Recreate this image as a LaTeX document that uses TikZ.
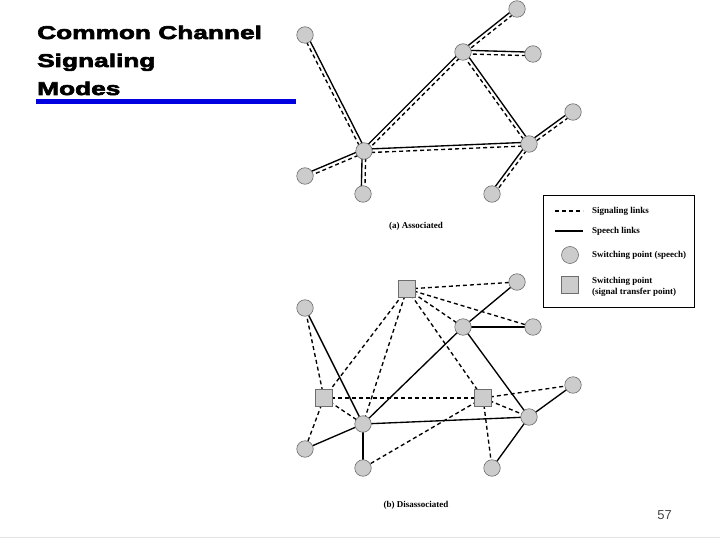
\documentclass[tikz,border=0pt]{standalone}
\usepackage{fontspec}
\setmainfont{Liberation Serif}
\newfontfamily\titlefont{Liberation Sans}[FakeStretch=1.42,FakeBold=3.5]
\newfontfamily\numfont{Liberation Sans}
\usetikzlibrary{calc,backgrounds}
\definecolor{nodefill}{RGB}{204,204,204}
\definecolor{nodeline}{RGB}{110,110,110}
\definecolor{titleblue}{RGB}{0,0,225}
\definecolor{numgray}{RGB}{70,70,70}
\definecolor{rulegray}{RGB}{228,228,228}
\tikzset{
  sw/.style={circle,draw=nodeline,fill=nodefill,line width=0.6pt,minimum size=16.5pt,inner sep=0pt},
  stp/.style={rectangle,draw=nodeline,fill=nodefill,line width=0.6pt,minimum size=16.5pt,inner sep=0pt},
  speech/.style={line width=1.35pt},
  signal/.style={line width=1.35pt,dash pattern=on 4pt off 3pt},
  capt/.style={font=\fontsize{9}{11}\selectfont\bfseries,inner sep=0pt},
  leg/.style={font=\fontsize{9}{11}\selectfont\bfseries,inner sep=0pt,anchor=west,align=left},
  ttl/.style={font=\titlefont\bfseries\fontsize{18.5}{28}\selectfont,inner sep=0pt,anchor=base west},
}
% dashed line on the visual left of #1 -> #2, solid on the right
\newcommand\dlinkL[2]{%
  \draw[speech] ($(#1.center)!1.8pt!-90:(#2.center)$) -- ($(#2.center)!1.8pt!90:(#1.center)$);
  \draw[signal] ($(#1.center)!1.8pt!90:(#2.center)$) -- ($(#2.center)!1.8pt!-90:(#1.center)$);}
\newcommand\dlinkR[2]{\dlinkL{#2}{#1}}
\begin{document}
\begin{tikzpicture}[x=1pt,y=-1pt]
\useasboundingbox (0,0) rectangle (720,540);
% title
\node[ttl] (t1) at (37,39) {Common Channel};
\node[ttl] (t2) at (37,67) {Signaling};
\node[ttl] (t3) at (37,95) {Modes};
\fill[titleblue] (36,99) rectangle (296,104);
% (a) associated
\node[sw] (a1) at (305,35) {};
\node[sw] (aL) at (364,151) {};
\node[sw] (aBL) at (305,176) {};
\node[sw] (aB) at (363,194) {};
\node[sw] (aT) at (463,52) {};
\node[sw] (aTR) at (517,9) {};
\node[sw] (aTr) at (533,54) {};
\node[sw] (aR) at (529,144) {};
\node[sw] (aRr) at (573,112) {};
\node[sw] (aBR) at (492,194) {};
\begin{pgfonlayer}{background}
  \dlinkL{aL}{a1}
  \dlinkR{aL}{aT}
  \dlinkR{aL}{aR}
  \dlinkL{aL}{aBL}
  \dlinkL{aL}{aB}
  \dlinkR{aT}{aTR}
  \dlinkR{aT}{aTr}
  \dlinkR{aT}{aR}
  \dlinkR{aR}{aRr}
  \dlinkL{aR}{aBR}
\end{pgfonlayer}
\node[capt] (capa) at (416,226) {(a) Associated};
% (b) disassociated
\node[stp] (s1) at (407,289) {};
\node[stp] (s2) at (324,398) {};
\node[stp] (s3) at (483,398) {};
\node[sw] (bTR) at (517,282) {};
\node[sw] (bTL) at (305,308) {};
\node[sw] (bT) at (463,327) {};
\node[sw] (bTr) at (533,327) {};
\node[sw] (bRr) at (573,385) {};
\node[sw] (bL) at (363,424) {};
\node[sw] (bR) at (529,417) {};
\node[sw] (bBL) at (305,449) {};
\node[sw] (bB) at (363,468) {};
\node[sw] (bBR) at (492,468) {};
\begin{pgfonlayer}{background}
  \draw[speech] (bTL.center) -- (bL.center);
  \draw[speech] (bL.center) -- (bT.center);
  \draw[speech] (bL.center) -- (bR.center);
  \draw[speech] (bL.center) -- (bBL.center);
  \draw[speech] (bL.center) -- (bB.center);
  \draw[speech] (bT.center) -- (bTR.center);
  \draw[speech] (bT.center) -- (bTr.center);
  \draw[speech] (bT.center) -- (bR.center);
  \draw[speech] (bR.center) -- (bRr.center);
  \draw[speech] (bR.center) -- (bBR.center);
  \draw[signal] (s1.center) -- (bTR.center);
  \draw[signal] (s1.center) -- (bTr.center);
  \draw[signal] (s1.center) -- (bT.center);
  \draw[signal] (s1.center) -- (s3.center);
  \draw[signal] (s1.center) -- (s2.center);
  \draw[signal] (s1.center) -- (bL.center);
  \draw[signal] (s2.center) -- (bTL.center);
  \draw[signal] (s2.center) -- (bL.center);
  \draw[signal] (s2.center) -- (bBL.center);
  \draw[signal] (s2.center) -- (s3.center);
  \draw[signal] (s3.center) -- (bRr.center);
  \draw[signal] (s3.center) -- (bR.center);
  \draw[signal] (s3.center) -- (bB.center);
  \draw[signal] (s3.center) -- (bBR.center);
\end{pgfonlayer}
\node[capt] (capb) at (416,505) {(b) Disassociated};
% legend
\node[draw,line width=0.7pt,minimum width=151pt,minimum height=112pt,inner sep=0pt,anchor=north west] (legbox) at (543,195) {};
\coordinate (ld1) at (555,211);
\coordinate (ld2) at (583,211);
\coordinate (ls1) at (555,231);
\coordinate (ls2) at (583,231);
\draw[signal] (ld1) -- (ld2);
\draw[speech] (ls1) -- (ls2);
\node[sw,minimum size=17pt] (lc) at (570,255) {};
\node[stp,minimum size=17pt] (lq) at (570,285) {};
\node[leg] (l1) at (592,211) {Signaling links};
\node[leg] (l2) at (592,231) {Speech links};
\node[leg] (l3) at (592,255) {Switching point (speech)};
\node[leg] (l4) at (592,286.5) {Switching point\\(signal transfer point)};
% page number and bottom rule
\node[font=\numfont\fontsize{13}{15}\selectfont,text=numgray,inner sep=0pt] (pn) at (664.5,515) {57};
\coordinate (rl) at (0,537.5);
\coordinate (rr) at (720,537.5);
\draw[rulegray,line width=1pt] (rl) -- (rr);
\end{tikzpicture}
\end{document}
